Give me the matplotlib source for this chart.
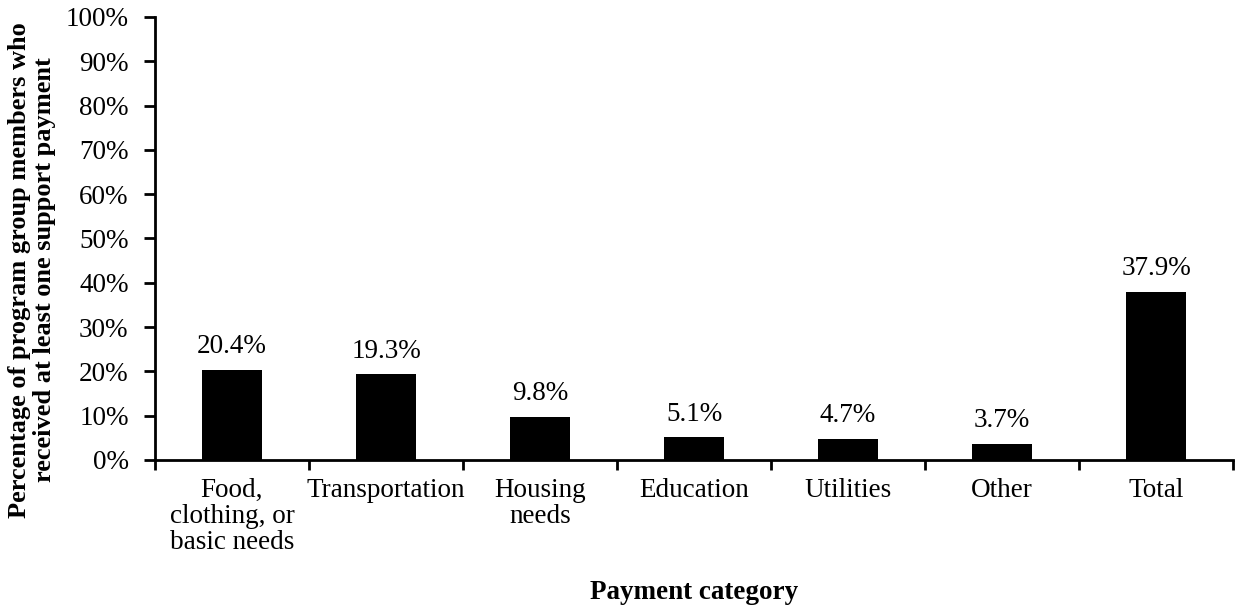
import matplotlib.pyplot as plt
import numpy as np

categories = ['Food,\nclothing, or\nbasic needs', 'Transportation', 'Housing\nneeds',
              'Education', 'Utilities', 'Other', 'Total']
values = [20.4, 19.3, 9.8, 5.1, 4.7, 3.7, 37.9]

plt.rcParams['font.family'] = ['Liberation Serif', 'DejaVu Serif']
FS = 19.5

fig = plt.figure(figsize=(12.42, 6.07), dpi=100)
ax = fig.add_axes([0.1248, 0.2422, 0.868, 0.7298])

x = np.arange(len(categories))
ax.bar(x, values, width=0.39, color='black')

for xi, v in zip(x, values):
    ax.text(xi, v + 3.8, f'{v:.1f}%', ha='center', va='baseline', fontsize=FS)

ax.set_xlim(-0.5, len(categories) - 0.5)
ax.set_ylim(0, 100)
ax.set_yticks(np.arange(0, 101, 10))
ax.set_yticklabels([f'{t}%' for t in range(0, 101, 10)], fontsize=FS)

# labels at centers, ticks on category borders
ax.set_xticks(x)
ax.set_xticklabels(categories, fontsize=FS, va='top', linespacing=1.05)
ax.tick_params(axis='x', which='major', length=0, pad=13)
ax.set_xticks(np.arange(-0.5, len(categories)), minor=True)
ax.tick_params(axis='x', which='minor', length=7, width=2, direction='out')
ax.tick_params(axis='y', length=8, width=2, direction='out', pad=11)

for side in ['top', 'right']:
    ax.spines[side].set_visible(False)
for side in ['left', 'bottom']:
    ax.spines[side].set_linewidth(2)

ax.set_xlabel('Payment category', fontsize=FS, fontweight='bold', labelpad=18)

# y label sits a bit lower than the axes centre in the original
fig.text(0.026, 0.555,
         'Percentage of program group members who\nreceived at least one support payment',
         rotation=90, ha='center', va='center', multialignment='center',
         fontsize=19, fontweight='bold', linespacing=1.1)

fig.savefig('out.png', dpi=100)
